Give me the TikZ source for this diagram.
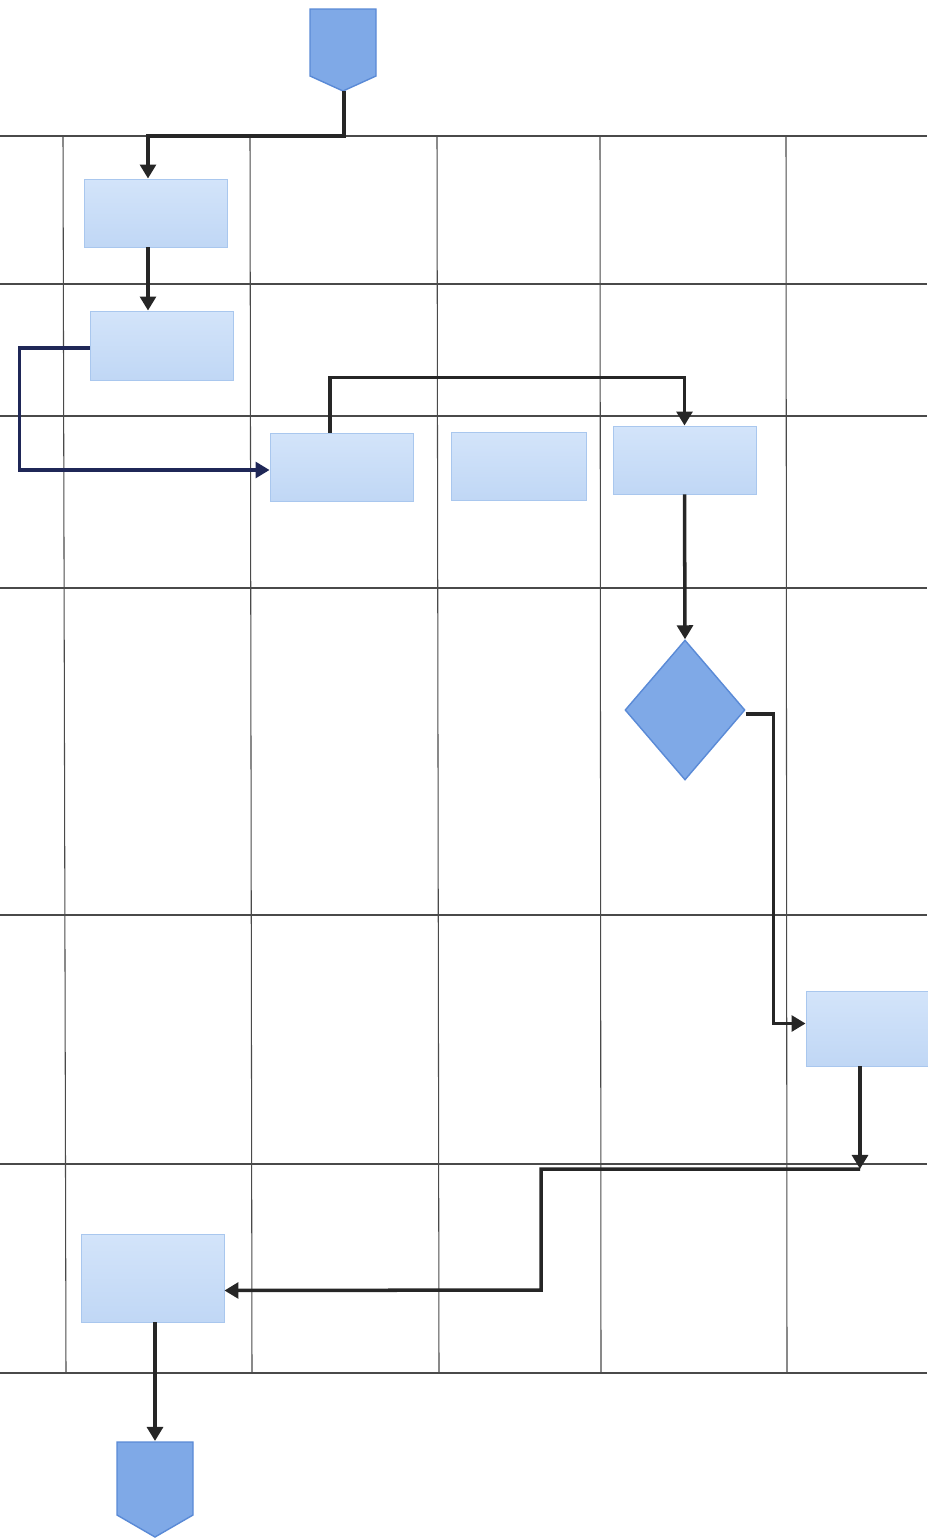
\documentclass[tikz,border=0pt]{standalone}
\usetikzlibrary{arrows.meta,shapes.geometric,calc}
\definecolor{boxtop}{HTML}{D3E4FA}
\definecolor{boxbot}{HTML}{C0D7F5}
\definecolor{boxline}{HTML}{A9C7EE}
\definecolor{termfill}{HTML}{7FA9E7}
\definecolor{termline}{HTML}{5A8AD6}
\definecolor{gridc}{HTML}{4A4A4A}
\definecolor{conn}{HTML}{262626}
\definecolor{connb}{HTML}{1F2757}
\tikzset{
  procbox/.style={rectangle, inner sep=0pt, top color=boxtop, bottom color=boxbot, draw=boxline, line width=0.5pt},
  termshape/.style={fill=termfill, draw=termline, line width=0.8pt},
  decision/.style={diamond, inner sep=0pt, fill=termfill, draw=termline, line width=0.8pt},
  gridline/.style={draw=gridc, line width=0.6pt},
  arr/.style={draw=conn, line width=2pt, -{Triangle[length=8pt,width=9pt]}},
  arrb/.style={draw=connb, line width=2pt, -{Triangle[length=8pt,width=9pt]}},
}
\begin{document}
\begin{tikzpicture}[x=0.02cm, y=-0.02cm]
\useasboundingbox (0,0) rectangle (927,1538);
% grid
\foreach \yy in {136,284,416,588,915,1164,1373}
  \draw[gridline] (0,\yy) -- (927,\yy);
\draw[gridline] (63,136) -- (66,1373);
\draw[gridline] (250,136) -- (252,1373);
\draw[gridline] (437,136) -- (439,1373);
\draw[gridline] (600,136) -- (601,1373);
\draw[gridline] (786,136) -- (787,1373);
% terminals
\draw[termshape] (310,9) -- (376,9) -- (376,76) -- (343,91) -- (310,76) -- cycle;
\coordinate (t1) at (344,91);
\draw[termshape] (117,1442) -- (193,1442) -- (193,1515) -- (155,1537) -- (117,1515) -- cycle;
\coordinate (t2) at (155,1441);
% boxes
\node[procbox, minimum width=2.86cm, minimum height=1.36cm] (b1) at (155.5,213) {};
\node[procbox, minimum width=2.86cm, minimum height=1.38cm] (b2) at (161.5,345.5) {};
\node[procbox, minimum width=2.86cm, minimum height=1.36cm] (b3) at (341.5,467) {};
\node[procbox, minimum width=2.70cm, minimum height=1.36cm] (b4) at (518.5,466) {};
\node[procbox, minimum width=2.86cm, minimum height=1.36cm] (b5) at (684.5,460) {};
\node[procbox, minimum width=2.88cm, minimum height=1.50cm] (b6) at (878,1028.5) {};
\node[procbox, minimum width=2.86cm, minimum height=1.76cm] (b7) at (152.5,1278) {};
\node[decision, minimum width=2.4cm, minimum height=2.8cm] (d) at (685,710) {};
% helper coordinates
\coordinate (xa) at (148,0);
\coordinate (xb) at (860,0);
\coordinate (j2) at (860,1169);
% connectors
\draw[arr] (t1) -- (344,136) -| (b1.north -| xa);
\draw[arr] (b1.south -| xa) -- (b2.north -| xa);
\draw[arrb] ([yshift=-0.05cm]b2.west) -- ++(-70,0) |- ([yshift=-0.06cm]b3.west);
\draw[arr] ([xshift=-0.23cm]b3.north) -- ++(0,-55) -| (b5.north);
\draw[arr] (b5.south) -- (d.north);
\draw[arr] ([yshift=-0.08cm]d.east) -- ++(28,0) |- ([yshift=0.1cm]b6.west);
\draw[arr] (b6.south -| xb) -- (j2);
\draw[arr] (j2) -| ++(-319,121) -- ([yshift=-0.25cm]b7.east);
\draw[arr] (b7.south -| t2) -- (t2);
\end{tikzpicture}
\end{document}
